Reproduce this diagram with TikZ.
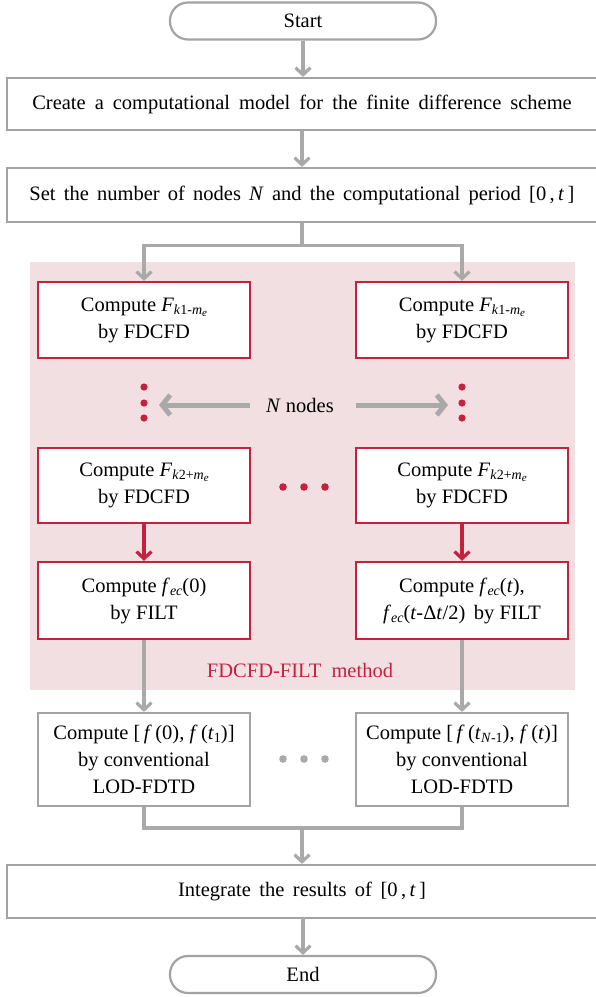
\documentclass[tikz,border=0pt]{standalone}
\usepackage{amsmath}
\usepackage{fontspec}
\setmainfont{Liberation Serif}
\usetikzlibrary{arrows.meta}
\definecolor{lgray}{HTML}{A9A9A9}
\definecolor{bgray}{HTML}{A3A3A3}
\definecolor{myred}{HTML}{C4213F}
\definecolor{mypink}{HTML}{F1DFE2}
\newcommand\sbs[1]{\raisebox{-0.35ex}{\fontsize{14}{14}\selectfont #1}}
\newcommand\ssb[1]{\raisebox{-0.3ex}{\fontsize{11}{11}\selectfont #1}}
\begin{document}
\begin{tikzpicture}[x=1pt,y=-1pt,
  font=\fontsize{20.5}{27}\selectfont,
  gbox/.style={draw=bgray, line width=2.2pt, fill=white, inner sep=0pt, align=center},
  rbox/.style={draw=myred, line width=2.5pt, fill=white, inner sep=0pt, align=center, minimum width=212pt},
  cbox/.style={gbox, minimum width=212pt, minimum height=93pt},
  wide/.style={gbox, minimum width=590pt},
  term/.style={draw=bgray, line width=2.2pt, fill=white, rounded corners=18pt, minimum width=266pt, minimum height=37pt, inner sep=0pt},
  gline/.style={draw=lgray, line width=3.2pt},
  garr/.style={gline, -{Straight Barb[length=7pt,width=15pt]}},
  rarr/.style={draw=myred, line width=3.2pt, -{Straight Barb[length=7pt,width=15pt]}},
  narr/.style={draw=lgray, line width=5pt, -{Straight Barb[length=8pt,width=20pt]}},
  rdot/.style={fill=myred},
  gdot/.style={fill=lgray}
]
\useasboundingbox (0,0) rectangle (595,997);
\fill[white] (0,0) rectangle (595,997);
\fill[mypink] (30,262) rectangle (575,690);

\node[term] (start) at (303,21) {Start};
\node[wide, minimum height=52pt] (create) at (302,104) {\spaceskip=9pt plus 1pt Create a computational model for the finite difference scheme};
\node[wide, minimum height=54pt] (set) at (302,195) {\spaceskip=8.2pt plus 1pt Set the number of nodes \textit{N} and the computational period [0\,,\,\textit{t}\,]};

\node[rbox, minimum height=76pt] (a1l) at (144,320) {Compute \textit{F}\sbs{\textit{k}1-\textit{m}\ssb{\textit{e}}}\\by FDCFD};
\node[rbox, minimum height=76pt] (a1r) at (462,320) {Compute \textit{F}\sbs{\textit{k}1-\textit{m}\ssb{\textit{e}}}\\by FDCFD};
\node[rbox, minimum height=75pt] (a2l) at (144,485.5) {Compute \textit{F}\sbs{\textit{k}2+\textit{m}\ssb{\textit{e}}}\\by FDCFD};
\node[rbox, minimum height=75pt] (a2r) at (462,485.5) {Compute \textit{F}\sbs{\textit{k}2+\textit{m}\ssb{\textit{e}}}\\by FDCFD};
\node[rbox, minimum height=77pt] (a3l) at (144,600.5) {Compute \textit{f}\sbs{\textit{ec}}(0)\\by FILT};
\node[rbox, minimum height=77pt] (a3r) at (462,600.5) {Compute \textit{f}\sbs{\textit{ec}}(\textit{t}),\\\textit{f}\sbs{\textit{ec}}(\textit{t}-Δ\textit{t}/2)\, by FILT};

\node (nn) at (300,405) {\textit{N} nodes};
\coordinate (la) at (159,405);
\coordinate (ra) at (448,405);
\draw[narr] ([xshift=-13pt]nn.west) -- (la);
\draw[narr] ([xshift=19pt]nn.east) -- (ra);

\foreach \y in {387,403,418} {
  \fill[rdot] (144,\y) circle (3.6pt);
  \fill[rdot] (462,\y) circle (3.6pt);
}
\foreach \x in {283,304,325} {
  \fill[rdot] (\x,487) circle (3.8pt);
  \fill[gdot] (\x,759) circle (3.8pt);
}

\node[text=myred] (meth) at (300,670) {FDCFD-FILT\ \ method};

\node[cbox] (bl) at (144,759.5) {Compute [\,\textit{f}\,(0), \textit{f}\,(\textit{t}\sbs{1})]\\by conventional\\LOD-FDTD};
\node[cbox] (br) at (462,759.5) {Compute [\,\textit{f}\,(\textit{t}\sbs{\textit{N}-1}), \textit{f}\,(\textit{t})]\\by conventional\\LOD-FDTD};

\node[wide, minimum height=53pt] (integ) at (302,891.5) {\spaceskip=8.5pt plus 1pt Integrate the results of [0\,,\,\textit{t}\,]};
\node[term] (end) at (303,974.5) {End};

\draw[garr] (start.south) -- (start.south |- create.north);
\draw[garr] (create.south) -- (create.south |- set.north);
\draw[garr] (set.south) -- ++(0,22) -| (a1l.north);
\draw[garr] (set.south) -- ++(0,22) -| (a1r.north);
\draw[rarr] (a2l) -- (a3l);
\draw[rarr] (a2r) -- (a3r);
\draw[garr] (a3l) -- (bl);
\draw[garr] (a3r) -- (br);
\coordinate (m) at (302,828);
\draw[gline] (bl.south) |- (m);
\draw[gline] (br.south) |- (m);
\draw[garr] (m) -- (m |- integ.north);
\draw[garr] (integ.south) -- (integ.south -| end.north) -- (end.north);
\end{tikzpicture}
\end{document}
